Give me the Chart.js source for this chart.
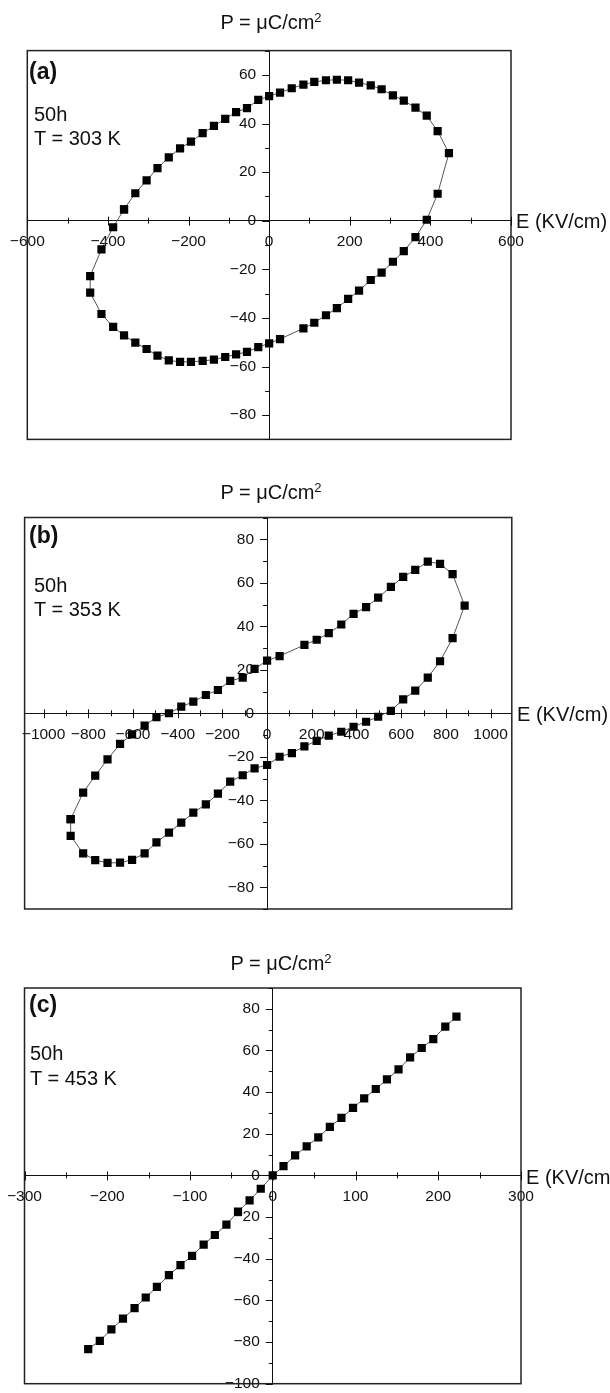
<!DOCTYPE html>
<html>
<head>
<meta charset="utf-8">
<script src="https://cdn.jsdelivr.net/npm/chart.js@4.4.1/dist/chart.umd.min.js"></script>
<style>
  body { margin: 0; background: #fff; }
  #page { position: relative; width: 610px; height: 1393px; overflow: hidden; font-family: "Liberation Sans", Arial, sans-serif; color: #111; }
  canvas { position: absolute; left: 0; }
  .t { position: absolute; font-size: 20px; line-height: 20px; white-space: nowrap; }
  .ttl { transform: translateX(-50%); }
  .tag { font-size: 23px; line-height: 23px; font-weight: bold; }
  sup { font-size: 13px; line-height: 0; vertical-align: 7px; }
</style>
</head>
<body>
<div id="page">
  <canvas id="chartA" width="610" height="460" style="top:0px"></canvas>
  <canvas id="chartB" width="610" height="470" style="top:460px"></canvas>
  <canvas id="chartC" width="610" height="463" style="top:930px"></canvas>

  <div class="t ttl" style="left:271px; top:12px">P = &mu;C/cm<sup>2</sup></div>
  <div class="t tag" style="left:29px; top:60px">(a)</div>
  <div class="t" style="left:34px; top:104px">50h</div>
  <div class="t" style="left:34px; top:128px">T = 303 K</div>
  <div class="t" style="left:516px; top:211px">E (KV/cm)</div>

  <div class="t ttl" style="left:271px; top:482px">P = &mu;C/cm<sup>2</sup></div>
  <div class="t tag" style="left:29px; top:524px">(b)</div>
  <div class="t" style="left:34px; top:575px">50h</div>
  <div class="t" style="left:34px; top:599px">T = 353 K</div>
  <div class="t" style="left:517px; top:704px">E (KV/cm)</div>

  <div class="t ttl" style="left:281px; top:953px">P = &mu;C/cm<sup>2</sup></div>
  <div class="t tag" style="left:29px; top:993px">(c)</div>
  <div class="t" style="left:30px; top:1043px">50h</div>
  <div class="t" style="left:30px; top:1068px">T = 453 K</div>
  <div class="t" style="left:526px; top:1167px">E (KV/cm)</div>
</div>
<script>
// (a) 50h, T = 303 K
const eA = [-360, -332, -304, -277, -249, -221, -194, -165, -137, -109, -82, -55, -27, 0, 27, 56, 85, 112, 141, 168,
  196, 223, 252, 279, 307, 334, 363, 391, 418, 446, 418, 391, 363, 334, 307, 279, 252, 223, 196, 168,
  141, 112, 85, 27, 0, -27, -55, -82, -109, -137, -165, -194, -221, -249, -277, -304, -332, -360, -387, -416,
  -444, -444, -416, -387, -360];
const pA = [4.7, 11.3, 16.6, 21.6, 26.1, 29.8, 32.5, 36, 39, 41.9, 44.7, 46.3, 49.7, 51.3, 52.7, 54.5, 56, 57.1, 57.8, 58,
  57.8, 56.8, 55.7, 54.1, 51.6, 49.4, 46.5, 43.2, 36.9, 27.8, 11.1, 0.4, -6.8, -12.5, -16.9, -21.4, -24.4, -28.8, -32.2, -36,
  -38.9, -42, -44.3, -48.7, -50.5, -52, -54, -55, -56.1, -57.2, -57.7, -58.1, -58.1, -57.5, -55.5, -52.8, -50.2, -47.2, -43.7, -38.4,
  -29.6, -22.8, -11.8, -2.7, 4.7];

// (b) 50h, T = 353 K
const eB = [-879, -823, -769, -714, -658, -604, -548, -495, -439, -384, -330, -274, -220, -165, -109, -56, 0, 56, 167, 222,
  276, 332, 387, 443, 497, 554, 609, 663, 719, 774, 830, 884, 830, 774, 719, 663, 609, 554, 497, 443,
  387, 332, 276, 222, 167, 111, 56, 0, -56, -109, -165, -220, -274, -330, -384, -439, -495, -548, -604, -658,
  -714, -769, -823, -879, -879];
const pB = [-48.7, -36.5, -28.7, -21.2, -14.1, -9.7, -5.7, -1.8, 0, 3.0, 5.3, 8.4, 10.7, 14.9, 16.4, 20.4, 24.2, 26.3, 31.4, 33.8,
  36.8, 40.8, 45.7, 48.8, 53.2, 58.1, 62.7, 65.9, 69.7, 68.7, 64, 49.5, 34.5, 23.9, 16.4, 10.4, 6.4, 1.1, -1.6, -3.9,
  -6.2, -8.5, -10.3, -12.7, -15.2, -18.3, -20, -23.8, -25.3, -28.5, -31.4, -37, -41.9, -45.7, -50.3, -54.9, -59.4, -64.4, -67.4, -68.7,
  -68.8, -67.5, -64.4, -56.4, -48.7];

// (c) 50h, T = 453 K
const eC = [-223, -209, -195, -181, -167, -153.5, -140, -125.5, -111.5, -97.5, -83.5, -70, -56, -42, -28, -14.5, 0, 13, 27, 41,
  55, 69, 83, 97, 110.5, 124.5, 138, 152, 166, 180, 194, 208.5, 222];
const pC = [-83.4, -79.4, -73.9, -68.8, -63.7, -58.6, -53.5, -47.9, -43.1, -38.6, -33.2, -28.6, -23.6, -17.4, -12, -6.4, 0, 4.5, 9.6, 14,
  18.3, 23.3, 27.6, 32.4, 37, 41.5, 46.1, 50.9, 56.7, 61.2, 65.5, 71.5, 76.3];

const fmt = v => (v < 0 ? '\u2212' + Math.abs(v) : String(v));

// box frame, tick marks, and a gap between the centred y axis and its labels
const frameTicks = {
  id: 'frameTicks',
  beforeDraw(chart, args, opts) {
    // centred y axes ignore ticks.padding, so push the labels left by hand
    chart.scales.y.getLabelItems().forEach(it => {
      if (!it.shifted) {
        it.options.translation[0] -= opts.yGap;
        it.shifted = true;
      }
    });
  },
  beforeDatasetsDraw(chart, args, opts) {
    const { ctx, chartArea: a, scales: { x, y } } = chart;
    const x0 = x.getPixelForValue(0), y0 = y.getPixelForValue(0);
    ctx.save();
    ctx.strokeStyle = '#222';
    ctx.lineWidth = 1.5;
    ctx.strokeRect(a.left, a.top, a.right - a.left, a.bottom - a.top);
    ctx.lineWidth = 1;
    ctx.strokeStyle = '#111';
    x.ticks.forEach(t => {
      const px = Math.round(x.getPixelForValue(t.value)) + 0.5;
      const major = t.value % opts.xMajor === 0;
      ctx.beginPath();
      ctx.moveTo(px, y0 - (major ? 4 : 3));
      ctx.lineTo(px, y0 + (major ? 5 : 3));
      ctx.stroke();
    });
    y.ticks.forEach(t => {
      const py = Math.round(y.getPixelForValue(t.value)) + 0.5;
      const major = t.value % opts.yMajor === 0;
      ctx.beginPath();
      ctx.moveTo(x0 - (major ? 7 : 4), py);
      ctx.lineTo(x0, py);
      ctx.stroke();
    });
    ctx.restore();
  }
};

// invisible tick marks: they only set the label distance from the axis
const hiddenGrid = { display: true, drawOnChartArea: false, drawTicks: true, tickLength: 12, tickColor: 'rgba(0,0,0,0)' };

function makeChart(id, es, ps, xr, yr, pad) {
  const pts = es.map((e, i) => ({ x: e, y: ps[i] }));
  const font = { family: '"Liberation Sans", Arial, sans-serif', size: 15.5 };
  return new Chart(document.getElementById(id), {
    type: 'scatter',
    data: {
      datasets: [{
        data: pts,
        showLine: true,
        borderColor: '#555',
        borderWidth: 1,
        pointStyle: 'rect',
        pointRadius: 5.8,
        pointBorderWidth: 0,
        pointBackgroundColor: '#000',
        tension: 0
      }]
    },
    options: {
      responsive: false,
      animation: false,
      devicePixelRatio: 1,
      layout: { padding: pad },
      plugins: {
        legend: { display: false },
        tooltip: { enabled: false },
        frameTicks: { xMajor: xr.major, yMajor: yr.major, yGap: 13 }
      },
      scales: {
        x: {
          type: 'linear',
          min: xr.min, max: xr.max,
          position: { y: 0 },
          grid: hiddenGrid,
          border: { display: true, color: '#111', width: 1 },
          ticks: {
            stepSize: xr.step, includeBounds: false, autoSkip: false, maxRotation: 0,
            padding: 0, color: '#111', font: font,
            callback: v => (v % xr.major === 0 ? fmt(v) : '')
          }
        },
        y: {
          type: 'linear',
          min: yr.min, max: yr.max,
          position: { x: 0 },
          grid: { display: false, drawTicks: false },
          border: { display: true, color: '#111', width: 1 },
          ticks: {
            stepSize: yr.step, includeBounds: false, autoSkip: false,
            padding: 0, color: '#111', font: font,
            callback: v => (v % yr.major === 0 ? fmt(v) : '')
          }
        }
      }
    },
    plugins: [frameTicks]
  });
}

makeChart('chartA', eA, pA,
  { min: -600, max: 600, step: 100, major: 200 },
  { min: -90, max: 70, step: 10, major: 20 },
  { left: 27.3, right: 99, top: 50.6, bottom: 20.6 });

makeChart('chartB', eB, pB,
  { min: -1085, max: 1095, step: 100, major: 200 },
  { min: -90, max: 90, step: 10, major: 20 },
  { left: 24.6, right: 98.2, top: 57.5, bottom: 21 });

makeChart('chartC', eC, pC,
  { min: -300, max: 300, step: 50, major: 100 },
  { min: -100, max: 90, step: 10, major: 20 },
  { left: 24.5, right: 89, top: 58, bottom: 5 });
</script>
</body>
</html>
